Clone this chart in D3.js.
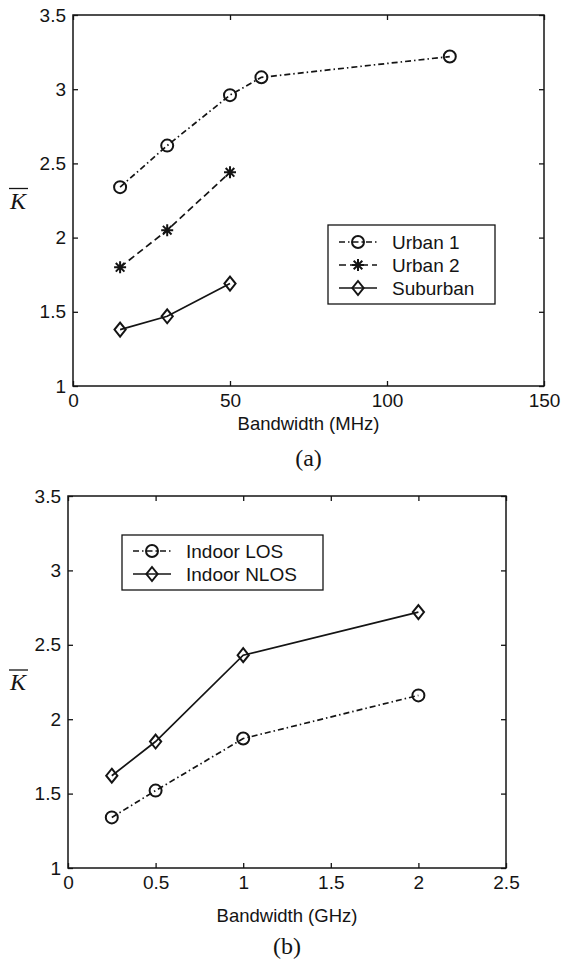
<!DOCTYPE html>
<html>
<head>
<meta charset="utf-8">
<script src="https://cdn.jsdelivr.net/npm/d3@7"></script>
<style>
  html, body { margin: 0; padding: 0; background: #fff; }
  svg { display: block; }
</style>
</head>
<body>
<svg id="fig" width="563" height="962"></svg>
<script>
// ---- Panel (a): outdoor environments, bandwidth in MHz ----
const bwA = { urban1: [15, 30, 50, 60, 120], urban2: [15, 30, 50], suburban: [15, 30, 50] };
const kUrban1 = [2.34, 2.62, 2.96, 3.08, 3.22];
const kUrban2 = [1.80, 2.05, 2.44];
const kSuburban = [1.38, 1.47, 1.69];
const xTicksA = [0, 50, 100, 150];
const labelsA = ["Urban 1", "Urban 2", "Suburban"];

// ---- Panel (b): indoor environments, bandwidth in GHz ----
const bwB = [0.25, 0.5, 1, 2];
const kLOS = [1.34, 1.52, 1.87, 2.16];
const kNLOS = [1.62, 1.85, 2.43, 2.72];
const xTicksB = [0, 0.5, 1, 1.5, 2, 2.5];
const labelsB = ["Indoor LOS", "Indoor NLOS"];

const yTicks = [1, 1.5, 2, 2.5, 3, 3.5];

const INK = "#141414";
const SANS = "'Liberation Sans', Arial, Helvetica, sans-serif";
const SERIF = "'Liberation Serif', 'Times New Roman', serif";
const styles = {
  dashdot: "6,3,1.5,3",
  dashed: "7,4",
  solid: null
};

const svg = d3.select("#fig");

function fmt(v) { return String(v); }

function drawMarker(g, kind, x, y) {
  if (kind === "circle") {
    g.append("circle").attr("cx", x).attr("cy", y).attr("r", 6)
      .attr("fill", "none").attr("stroke", INK).attr("stroke-width", 2);
  } else if (kind === "diamond") {
    const s = 7;
    g.append("path")
      .attr("d", `M${x},${y - s}L${x + s * 0.8},${y}L${x},${y + s}L${x - s * 0.8},${y}Z`)
      .attr("fill", "none").attr("stroke", INK).attr("stroke-width", 2);
  } else if (kind === "star") {
    const s = 6, d = s * 0.72;
    g.append("path")
      .attr("d", `M${x - s},${y}H${x + s}M${x},${y - s}V${y + s}` +
                 `M${x - d},${y - d}L${x + d},${y + d}M${x - d},${y + d}L${x + d},${y - d}`)
      .attr("stroke", INK).attr("stroke-width", 2).attr("fill", "none");
  }
}

function panel(cfg) {
  const g = svg.append("g");
  const x = d3.scaleLinear().domain(cfg.xDomain).range([cfg.left, cfg.right]);
  const y = d3.scaleLinear().domain([1, 3.5]).range([cfg.bottom, cfg.top]);

  // frame
  g.append("rect")
    .attr("x", cfg.left).attr("y", cfg.top)
    .attr("width", cfg.right - cfg.left).attr("height", cfg.bottom - cfg.top)
    .attr("fill", "none").attr("stroke", INK).attr("stroke-width", 1.5);

  // axes with inward ticks on all four sides
  const tickLen = 5;
  const axB = d3.axisBottom(x).tickValues(cfg.xTicks).tickSize(-tickLen).tickFormat(fmt).tickPadding(8);
  const axT = d3.axisTop(x).tickValues(cfg.xTicks).tickSize(-tickLen).tickFormat("");
  const axL = d3.axisLeft(y).tickValues(yTicks).tickSize(-tickLen).tickFormat(fmt).tickPadding(7);
  const axR = d3.axisRight(y).tickValues(yTicks).tickSize(-tickLen).tickFormat("");

  const gb = g.append("g").attr("transform", `translate(0,${cfg.bottom})`).call(axB);
  const gt = g.append("g").attr("transform", `translate(0,${cfg.top})`).call(axT);
  const gl = g.append("g").attr("transform", `translate(${cfg.left},0)`).call(axL);
  const gr = g.append("g").attr("transform", `translate(${cfg.right},0)`).call(axR);
  [gb, gt, gl, gr].forEach(a => {
    a.select(".domain").remove();
    a.selectAll("line").attr("stroke", INK).attr("stroke-width", 1.3);
    a.selectAll("text").attr("fill", INK).attr("font-family", SANS).attr("font-size", 19);
  });

  // series
  const line = d3.line().x(d => x(d[0])).y(d => y(d[1]));
  cfg.series.forEach(s => {
    const pts = s.xs.map((v, i) => [v, s.ys[i]]);
    g.append("path").datum(pts).attr("d", line)
      .attr("fill", "none").attr("stroke", INK).attr("stroke-width", 1.7)
      .attr("stroke-dasharray", styles[s.style]);
    const mg = g.append("g");
    pts.forEach(p => drawMarker(mg, s.marker, x(p[0]), y(p[1])));
  });

  // legend
  const L = cfg.legend;
  g.append("rect").attr("x", L.x).attr("y", L.y).attr("width", L.w).attr("height", L.h)
    .attr("fill", "#fff").attr("stroke", INK).attr("stroke-width", 1.3);
  cfg.series.forEach((s, i) => {
    const cy = L.y + L.first + i * L.step;
    g.append("line").attr("x1", L.x + 11).attr("x2", L.x + 49).attr("y1", cy).attr("y2", cy)
      .attr("stroke", INK).attr("stroke-width", 1.7).attr("stroke-dasharray", styles[s.style]);
    drawMarker(g, s.marker, L.x + 30, cy);
    g.append("text").attr("x", L.x + 64).attr("y", cy).attr("dy", "0.35em")
      .attr("font-family", SANS).attr("font-size", 19).attr("fill", INK).text(s.label);
  });

  // axis titles and caption
  g.append("text").attr("x", (cfg.left + cfg.right) / 2).attr("y", cfg.bottom + cfg.titleGap)
    .attr("text-anchor", "middle").attr("font-family", SANS).attr("font-size", 18.5)
    .attr("fill", INK).text(cfg.xTitle);
  g.append("text").attr("x", (cfg.left + cfg.right) / 2).attr("y", cfg.bottom + cfg.captionGap)
    .attr("text-anchor", "middle").attr("font-family", SERIF).attr("font-size", 24)
    .attr("fill", INK).text(cfg.caption);

  const ky = (cfg.top + cfg.bottom) / 2;
  g.append("text").attr("x", 18).attr("y", ky + 8)
    .attr("text-anchor", "middle").attr("font-family", SERIF).attr("font-style", "italic")
    .attr("font-size", 24).attr("fill", INK).text("K");
  g.append("line").attr("x1", 9).attr("x2", 28).attr("y1", ky - 12).attr("y2", ky - 12)
    .attr("stroke", INK).attr("stroke-width", 1.3);
}

panel({
  left: 73, right: 544, top: 15, bottom: 386,
  xDomain: [0, 150], xTicks: xTicksA,
  xTitle: "Bandwidth (MHz)", caption: "(a)",
  titleGap: 44, captionGap: 80,
  series: [
    { xs: bwA.urban1, ys: kUrban1, style: "dashdot", marker: "circle", label: labelsA[0] },
    { xs: bwA.urban2, ys: kUrban2, style: "dashed", marker: "star", label: labelsA[1] },
    { xs: bwA.suburban, ys: kSuburban, style: "solid", marker: "diamond", label: labelsA[2] }
  ],
  legend: { x: 328, y: 225, w: 167, h: 79, first: 17, step: 23 }
});

panel({
  left: 68, right: 506, top: 496, bottom: 868,
  xDomain: [0, 2.5], xTicks: xTicksB,
  xTitle: "Bandwidth (GHz)", caption: "(b)",
  titleGap: 54, captionGap: 86,
  series: [
    { xs: bwB, ys: kLOS, style: "dashdot", marker: "circle", label: labelsB[0] },
    { xs: bwB, ys: kNLOS, style: "solid", marker: "diamond", label: labelsB[1] }
  ],
  legend: { x: 122, y: 535, w: 201, h: 55, first: 16, step: 23 }
});
</script>
</body>
</html>
